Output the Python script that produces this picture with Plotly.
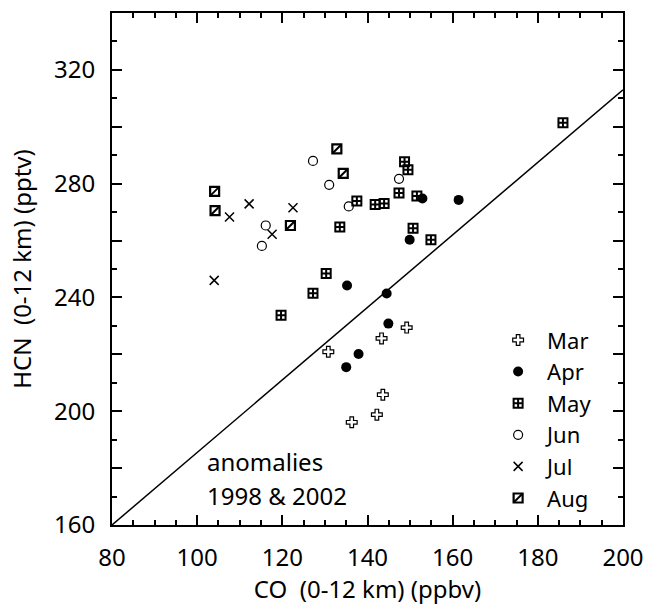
import plotly.graph_objects as go

mar_co = [130.8, 143.3, 149.2, 143.6, 142.2, 136.3]
mar_hcn = [220.9, 225.6, 229.4, 205.8, 198.8, 196.1]

apr_co = [152.9, 161.4, 149.9, 135.2, 144.5, 144.9, 137.9, 135.0]
apr_hcn = [274.8, 274.3, 260.3, 244.2, 241.4, 230.8, 220.1, 215.5]

may_co = [148.7, 149.5, 147.4, 151.6, 137.5, 141.8, 143.9, 133.5, 150.7, 154.9, 130.3, 127.2, 119.7, 185.9]
may_hcn = [287.7, 284.9, 276.7, 275.7, 273.9, 272.7, 273.0, 264.8, 264.3, 260.3, 248.4, 241.5, 233.7, 301.4]

jun_co = [127.2, 131.0, 135.6, 147.4, 116.1, 115.2]
jun_hcn = [288.0, 279.6, 272.0, 281.7, 265.3, 258.1]

jul_co = [104.0, 107.6, 112.2, 122.5, 117.6]
jul_hcn = [246.0, 268.3, 272.9, 271.5, 262.2]

aug_co = [104.1, 104.2, 121.9, 132.8, 134.3]
aug_hcn = [277.3, 270.5, 265.3, 292.2, 283.6]

line_co = [80, 200]
line_hcn = [160, 313]

x_ticks = [80, 100, 120, 140, 160, 180, 200]
y_ticks = [160, 180, 200, 220, 240, 260, 280, 300, 320, 340]
y_labels = ["160", "", "200", "", "240", "", "280", "", "320", ""]

FONT = "Noto Sans"
FS = 24
LFS = 22
NB = "\u00a0"
LEG_X = 0.738
LEG_Y = 0.402
fig = go.Figure()

fig.add_trace(go.Scatter(x=line_co, y=line_hcn, mode="lines",
                         line=dict(color="black", width=1.5), showlegend=False, hoverinfo="skip"))

fig.add_trace(go.Scatter(x=mar_co, y=mar_hcn, mode="markers", name="Mar",
                         marker=dict(symbol="cross-open", size=9, color="black", line=dict(width=1.2))))
fig.add_trace(go.Scatter(x=apr_co, y=apr_hcn, mode="markers", name="Apr",
                         marker=dict(symbol="circle", size=10, color="black", line=dict(width=0))))
fig.add_trace(go.Scatter(x=may_co, y=may_hcn, mode="markers", name="May",
                         marker=dict(symbol="square-cross-open", size=9, color="black", line=dict(width=2))))
fig.add_trace(go.Scatter(x=jun_co, y=jun_hcn, mode="markers", name="Jun",
                         marker=dict(symbol="circle-open", size=9, color="black", line=dict(width=1.2))))
fig.add_trace(go.Scatter(x=jul_co, y=jul_hcn, mode="markers", name="Jul",
                         marker=dict(symbol="x-thin-open", size=9, color="black", line=dict(width=1.5))))
fig.add_trace(go.Scatter(x=aug_co, y=aug_hcn, mode="markers", name="Aug",
                         marker=dict(symbol="square-open", size=9, color="black", line=dict(width=2.2))))
# diagonal stroke of the Aug symbol; its legend entry overlays the Aug square (text made transparent)
fig.add_trace(go.Scatter(x=aug_co, y=aug_hcn, mode="markers", name="Aug", legend="legend2",
                         marker=dict(symbol="line-ne-open", size=8, color="black", line=dict(width=2))))

fig.add_annotation(x=0.182, y=0.125, xref="paper", yref="paper", xanchor="left", yanchor="middle",
                   text="anomalies", showarrow=False, font=dict(family=FONT, size=FS, color="black"))
fig.add_annotation(x=0.182, y=0.057, xref="paper", yref="paper", xanchor="left", yanchor="middle",
                   text="1998 & 2002", showarrow=False, font=dict(family=FONT, size=FS, color="black"))

axis_common = dict(showgrid=False, zeroline=False, showline=True, linecolor="black", linewidth=2,
                   mirror="ticks", ticks="inside", ticklen=10, tickwidth=2, tickcolor="black",
                   ticklabelstandoff=10,
                   tickfont=dict(family=FONT, size=FS, color="black"))

fig.update_xaxes(range=[80, 200], tickmode="array", tickvals=x_ticks, automargin=False,
                 minor=dict(dtick=5, ticks="inside", ticklen=5, tickwidth=1.5, tickcolor="black"),
                 title=dict(text="CO" + NB + " (0-12 km) (ppbv)" + NB * 3,
                            font=dict(family=FONT, size=FS, color="black")),
                 **axis_common)
fig.update_yaxes(range=[160, 340], tickmode="array", tickvals=y_ticks, ticktext=y_labels, automargin=True,
                 minor=dict(dtick=10, ticks="inside", ticklen=5, tickwidth=1.5, tickcolor="black"),
                 title=dict(text="HCN" + NB + " (0-12 km) (pptv)" + NB * 3, standoff=16,
                            font=dict(family=FONT, size=FS, color="black")),
                 **axis_common)

fig.update_layout(width=647, height=605, margin=dict(l=112, r=24, t=13, b=80),
                  plot_bgcolor="white", paper_bgcolor="white",
                  legend=dict(x=LEG_X, y=LEG_Y, xanchor="left", yanchor="top", bgcolor="rgba(0,0,0,0)",
                              font=dict(family=FONT, size=LFS, color="black"), itemwidth=48),
                  legend2=dict(x=LEG_X, y=LEG_Y - 5 * 31.6 / 512, xanchor="left", yanchor="top",
                               bgcolor="rgba(0,0,0,0)",
                               font=dict(family=FONT, size=LFS, color="rgba(0,0,0,0)"), itemwidth=48),
                  font=dict(family=FONT))

fig.write_html("out.html", config={"displayModeBar": False},
               post_script="document.body.style.margin='0';")
